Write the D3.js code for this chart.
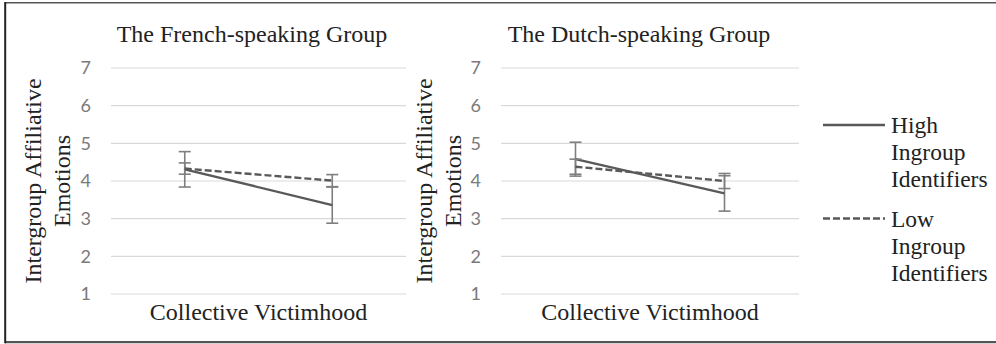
<!DOCTYPE html>
<html><head><meta charset="utf-8">
<script src="https://cdn.jsdelivr.net/npm/d3@7/dist/d3.min.js"></script>
<style>body{margin:0;background:#fff}svg{display:block}
.serif{font-family:"Liberation Serif","Times New Roman",Times,"DejaVu Serif",serif;}
</style>
</head><body>
<svg id="c" width="996" height="344"></svg>
<script>
// ---- data ----
const categories = ["Low", "High"];
const yTicks = [1, 2, 3, 4, 5, 6, 7];
const seriesNames = ["High Ingroup Identifiers", "Low Ingroup Identifiers"];
const frenchHigh = [4.31, 3.36];
const frenchHighErr = [0.47, 0.48];
const frenchLow = [4.33, 4.01];
const frenchLowErr = [0.15, 0.16];
const dutchHigh = [4.58, 3.67];
const dutchHighErr = [0.45, 0.47];
const dutchLow = [4.38, 4.00];
const dutchLowErr = [0.20, 0.20];
const panelTitles = ["The French-speaking Group", "The Dutch-speaking Group"];
const xTitle = "Collective Victimhood";
const yTitleLines = ["Intergroup Affiliative", "Emotions"];
const legendLines = [["High", "Ingroup", "Identifiers"], ["Low", "Ingroup", "Identifiers"]];

const svg = d3.select("#c");
const sans = "Lato,'Open Sans',sans-serif";
const lineColor = "#595959", errColor = "#7f7f7f";

// frame (right edge cropped in the original)
svg.append("line").attr("x1", 5).attr("x2", 996).attr("y1", 2.8).attr("y2", 2.8)
  .attr("stroke", "#555").attr("stroke-width", 1.6);
svg.append("line").attr("x1", 5).attr("x2", 996).attr("y1", 342.2).attr("y2", 342.2)
  .attr("stroke", "#555").attr("stroke-width", 2.2);
svg.append("line").attr("x1", 5.2).attr("x2", 5.2).attr("y1", 2).attr("y2", 343.3)
  .attr("stroke", "#222").attr("stroke-width", 2);

const panels = [
  {x0: 111, x1: 406, tickX: 91, yt: [41, 70], titleX: 252, title: panelTitles[0],
   series: [{v: frenchHigh, e: frenchHighErr, dash: null}, {v: frenchLow, e: frenchLowErr, dash: "7,3"}]},
  {x0: 501, x1: 799, tickX: 481, yt: [432, 461], titleX: 639, title: panelTitles[1],
   series: [{v: dutchHigh, e: dutchHighErr, dash: null}, {v: dutchLow, e: dutchLowErr, dash: "7,3"}]}
];

const y = d3.scaleLinear().domain([1, 7]).range([294, 68]);

panels.forEach(p => {
  const g = svg.append("g");
  const x = d3.scaleBand().domain(categories).range([p.x0, p.x1]);
  const cx = c => x(c) + x.bandwidth() / 2;

  g.selectAll("line.grid").data(yTicks).join("line").attr("class", "grid")
    .attr("x1", p.x0).attr("x2", p.x1).attr("y1", d => y(d)).attr("y2", d => y(d))
    .attr("stroke", "#d9d9d9").attr("stroke-width", 1.2);

  const ax = g.append("g").attr("transform", `translate(${p.tickX},0)`)
    .call(d3.axisLeft(y).tickValues(yTicks).tickSize(0).tickPadding(0).tickFormat(d3.format("d")));
  ax.select(".domain").remove();
  ax.selectAll("text").attr("font-family", sans).attr("font-size", 18).attr("fill", "#7a7a7a")
    .attr("text-anchor", "end");

  g.append("text").attr("class", "serif").attr("x", p.titleX).attr("y", 42).attr("text-anchor", "middle")
    .attr("font-size", 24).attr("fill", "#222").text(p.title);
  g.append("text").attr("class", "serif").attr("x", (p.x0 + p.x1) / 2).attr("y", 320).attr("text-anchor", "middle")
    .attr("font-size", 24).attr("fill", "#222").text(xTitle);
  yTitleLines.forEach((t, i) => {
    g.append("text").attr("class", "serif").attr("transform", `translate(${p.yt[i]},181) rotate(-90)`)
      .attr("text-anchor", "middle").attr("font-size", 24)
      .attr("fill", "#222").text(t);
  });

  p.series.forEach(s => {
    const pts = categories.map((c, i) => ({c, v: s.v[i], e: s.e[i]}));
    const eg = g.append("g");
    pts.forEach(d => {
      const X = cx(d.c);
      eg.append("line").attr("x1", X).attr("x2", X).attr("y1", y(d.v - d.e)).attr("y2", y(d.v + d.e))
        .attr("stroke", errColor).attr("stroke-width", 1.6);
      [d.v - d.e, d.v + d.e].forEach(val => {
        eg.append("line").attr("x1", X - 6).attr("x2", X + 6).attr("y1", y(val)).attr("y2", y(val))
          .attr("stroke", errColor).attr("stroke-width", 1.6);
      });
    });
    g.append("path").datum(pts)
      .attr("d", d3.line().x(d => cx(d.c)).y(d => y(d.v)))
      .attr("fill", "none").attr("stroke", lineColor).attr("stroke-width", 2.4)
      .attr("stroke-dasharray", s.dash);
  });
});

const legY = [125, 218.5];
legendLines.forEach((lines, i) => {
  svg.append("line").attr("x1", 823).attr("x2", 885).attr("y1", legY[i]).attr("y2", legY[i])
    .attr("stroke", lineColor).attr("stroke-width", 2.4).attr("stroke-dasharray", i === 1 ? "7,3" : null);
  lines.forEach((t, j) => {
    svg.append("text").attr("class", "serif").attr("x", 891).attr("y", legY[i] + 8 + j * 27)
      .attr("font-size", 23.5).attr("fill", "#222").text(t);
  });
});
</script>
</body></html>
